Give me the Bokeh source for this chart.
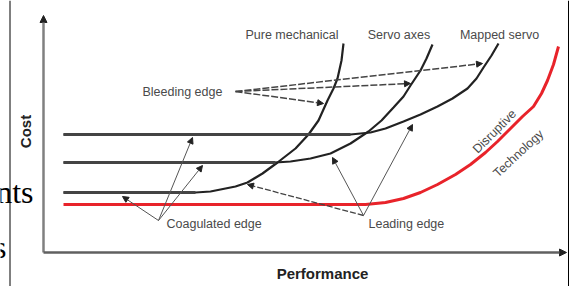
from bokeh.plotting import figure
from bokeh.models import Range1d, Arrow, NormalHead, ColumnDataSource
from bokeh.core.properties import value
from bokeh.embed import file_html
from bokeh.resources import INLINE
import math

# Performance (x) / Cost (y) in diagram units, origin at the axes corner
pure_x = [20, 152, 167, 177, 192, 204, 219, 234, 252, 265, 275, 284, 290, 294, 298, 300]
pure_y = [60, 60, 61, 63, 66, 70, 79, 90, 104, 118, 132, 152, 164, 174, 192, 209]
servo_x = [20, 232, 247, 267, 287, 307, 325, 338, 350, 360, 367, 377, 383, 389]
servo_y = [90, 90, 91, 94, 99, 109, 121, 132, 145, 156, 167, 182, 194, 208]
mapped_x = [20, 307, 327, 342, 360, 377, 394, 409, 424, 433, 440, 448, 455]
mapped_y = [118, 118, 120, 124, 131, 138, 146, 154, 164, 174, 185, 197, 209]
disrupt_x = [20, 322, 342, 360, 377, 394, 412, 427, 442, 454, 467, 479, 490, 498, 504, 510, 515]
disrupt_y = [48, 48, 50, 54, 60, 68, 78, 88, 100, 111, 124, 136, 146, 159, 172, 188, 206]

curve_names = ["Pure mechanical", "Servo axes", "Mapped servo"]
curve_label_x = [248.5, 355.5, 456]
curve_label_y = [218, 218, 218]

edge_names = ["Bleeding edge", "Coagulated edge", "Leading edge"]
edge_label_x = [99, 123, 325]
edge_label_y = [161, 29, 29]

bleed_x0 = [192, 192, 192]
bleed_y0 = [161, 161, 161]
bleed_x1 = [439, 367, 280]
bleed_y1 = [189, 169, 149]

coag_x0 = [115, 115, 115]
coag_y0 = [32, 32, 32]
coag_x1 = [79, 149, 159]
coag_y1 = [56, 115, 87]

lead_x0 = [320, 320]
lead_y0 = [37, 37]
lead_x1 = [289, 369]
lead_y1 = [95, 128]
lead_dash_x0 = [320]
lead_dash_y0 = [37]
lead_dash_x1 = [204]
lead_dash_y1 = [68]

disrupt_words = ["Disruptive", "Technology"]
disrupt_word_x = [451, 475]
disrupt_word_y = [121, 99]
disrupt_word_angle = [45, 43]

page_words = ["nts", "s"]
page_word_x = [-10, -37]
page_word_y = [61, 6]

axis_x_max = 523
axis_y_max = 237

p = figure(width=572, height=286, x_range=Range1d(-43, 529), y_range=Range1d(-34, 252),
           output_backend="svg", toolbar_location=None, min_border=0,
           x_axis_location=None, y_axis_location=None)
p.grid.visible = False
p.outline_line_color = None
p.background_fill_color = "white"
p.border_fill_color = "white"

# page border lines
p.segment(x0=[-33.5, 525], y0=[-34, -34], x1=[-33.5, 525], y1=[252, 252], line_color="black", line_width=1)

# stray page text
p.text(x=page_word_x, y=page_word_y, text=page_words, text_font=value("Liberation Serif"),
       text_font_size="32px", text_align="right", text_baseline="alphabetic", text_color="black")

# axes with arrowheads
p.add_layout(Arrow(end=NormalHead(size=7, fill_color="#222", line_color="#222"),
                   x_start=0, y_start=0, x_end=0, y_end=axis_y_max, line_color="#808080", line_width=2.5))
p.add_layout(Arrow(end=NormalHead(size=7, fill_color="#222", line_color="#222"),
                   x_start=0, y_start=0, x_end=axis_x_max, y_end=0, line_color="#606060", line_width=2.5))

# curves
p.line(disrupt_x, disrupt_y, line_color="#e8232a", line_width=3)
p.line(pure_x, pure_y, line_color="#222", line_width=2.2)
p.line(servo_x, servo_y, line_color="#222", line_width=2.2)
p.line(mapped_x, mapped_y, line_color="#222", line_width=2.2)
p.line(pure_x[:2], pure_y[:2], line_color="#444", line_width=2.8)
p.line(servo_x[:2], servo_y[:2], line_color="#444", line_width=2.8)
p.line(mapped_x[:2], mapped_y[:2], line_color="#444", line_width=2.8)

def arrows(x0, y0, x1, y1, dash="solid", width=1.2, color="#555"):
    src = ColumnDataSource(dict(x0=x0, y0=y0, x1=x1, y1=y1))
    p.add_layout(Arrow(source=src, x_start="x0", y_start="y0", x_end="x1", y_end="y1",
                       end=NormalHead(size=6, fill_color="#222", line_color="#222"),
                       line_color=color, line_width=width, line_dash=dash))

arrows(bleed_x0, bleed_y0, bleed_x1, bleed_y1, dash="7 2", width=1.5, color="#444")
arrows(coag_x0, coag_y0, coag_x1, coag_y1, width=1, color="#555")
arrows(lead_x0, lead_y0, lead_x1, lead_y1, width=1, color="#555")
arrows(lead_dash_x0, lead_dash_y0, lead_dash_x1, lead_dash_y1, dash="6 2", width=1.3, color="#444")

font = value("Liberation Sans")
p.text(x=curve_label_x, y=curve_label_y, text=curve_names, text_font=font, text_font_size="12.5px",
       text_align="center", text_baseline="middle", text_color="#4a4a4a")
p.text(x=edge_label_x, y=edge_label_y, text=edge_names, text_font=font, text_font_size="12.5px",
       text_align="left", text_baseline="middle", text_color="#4a4a4a")
p.text(x=disrupt_word_x, y=disrupt_word_y, text=disrupt_words,
       angle=[math.radians(a) for a in disrupt_word_angle], text_font=font, text_font_size="12.5px",
       text_align="center", text_baseline="middle", text_color="#4a4a4a")

p.text(x=[-18], y=[121], text=["Cost"], angle=[math.pi / 2], text_font=font, text_font_size="15px",
       text_font_style="bold", text_align="center", text_baseline="middle", text_color="#222")
p.text(x=[279], y=[-21], text=["Performance"], text_font=font, text_font_size="15px",
       text_font_style="bold", text_align="center", text_baseline="middle", text_color="#222")

open("out.html", "w").write(file_html(p, INLINE))
